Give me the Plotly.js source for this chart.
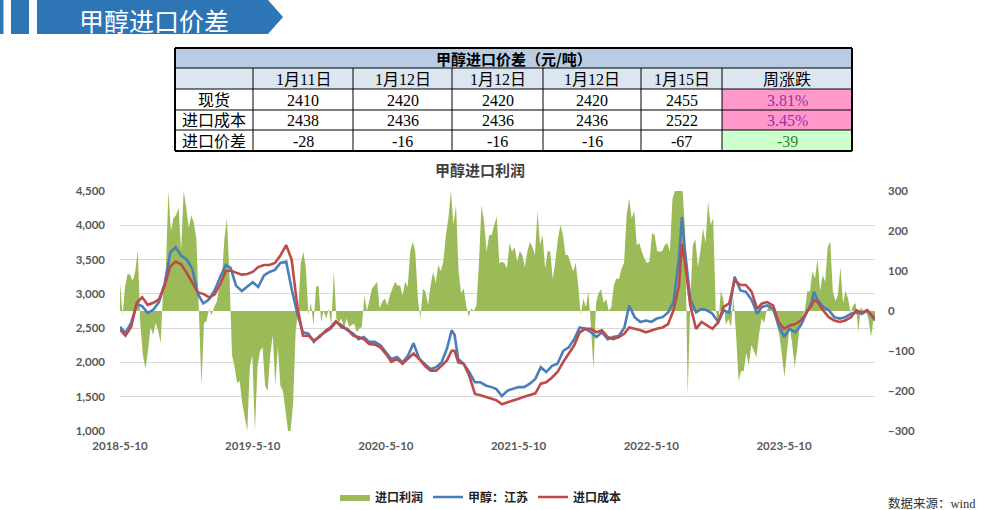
<!DOCTYPE html>
<html>
<head>
<meta charset="utf-8">
<script src="https://cdn.plot.ly/plotly-3.0.1.min.js"></script>
<style>
html,body{margin:0;padding:0;background:#fff;overflow:hidden;}
#chart{width:981px;height:510px;}
</style>
</head>
<body>
<div id="chart"></div>
<script>
// ---------------- DATA ----------------
const bannerTitle = '甲醇进口价差';
const chartTitle = '甲醇进口利润';
const sourceNote = '数据来源：wind';

// table
const tableTitle = '甲醇进口价差（元/吨）';
const tableDates = ['1月11日', '1月12日', '1月12日', '1月12日', '1月15日'];
const changeHeader = '周涨跌';
const rowLabels = ['现货', '进口成本', '进口价差'];
const spotValues = [2410, 2420, 2420, 2420, 2455];
const costValues = [2438, 2436, 2436, 2436, 2522];
const spreadValues = [-28, -16, -16, -16, -67];
const weeklyChange = ['3.81%', '3.45%', '-39'];

// x-axis ticks
const tickDates = ['2018-05-10', '2019-05-10', '2020-05-10', '2021-05-10', '2022-05-10', '2023-05-10'];
const tickLabels = ['2018-5-10', '2019-5-10', '2020-5-10', '2021-5-10', '2022-5-10', '2023-5-10'];

// line series (semi-monthly readings)
const lineDates = [
'2018-05-10','2018-05-25','2018-06-10','2018-06-25','2018-07-10','2018-07-25','2018-08-10','2018-08-25','2018-09-10','2018-09-25','2018-10-10','2018-10-25','2018-11-10','2018-11-25','2018-12-10','2018-12-25',
'2019-01-10','2019-01-25','2019-02-10','2019-02-25','2019-03-10','2019-03-25','2019-04-10','2019-04-25','2019-05-10','2019-05-25','2019-06-10','2019-06-25','2019-07-10','2019-07-25','2019-08-10','2019-08-25','2019-09-10','2019-09-25','2019-10-10','2019-10-25','2019-11-10','2019-11-25','2019-12-10','2019-12-25',
'2020-01-10','2020-01-25','2020-02-10','2020-02-25','2020-03-10','2020-03-25','2020-04-10','2020-04-25','2020-05-10','2020-05-25','2020-06-10','2020-06-25','2020-07-10','2020-07-25','2020-08-10','2020-08-25','2020-09-10','2020-09-25','2020-10-10','2020-10-25','2020-11-07','2020-11-15','2020-11-25','2020-12-10','2020-12-25',
'2021-01-10','2021-01-25','2021-02-10','2021-02-25','2021-03-10','2021-03-25','2021-04-10','2021-04-25','2021-05-10','2021-05-25','2021-06-10','2021-06-25','2021-07-10','2021-07-25','2021-08-10','2021-08-25','2021-09-10','2021-09-25','2021-10-10','2021-10-25','2021-11-10','2021-11-25','2021-12-10','2021-12-25',
'2022-01-10','2022-01-25','2022-02-10','2022-02-25','2022-03-10','2022-03-25','2022-04-10','2022-04-25','2022-05-10','2022-05-25','2022-06-10','2022-06-25','2022-07-10','2022-07-25','2022-08-02','2022-08-10','2022-08-25','2022-09-10','2022-09-25','2022-10-10','2022-10-25','2022-11-10','2022-11-25','2022-12-10','2022-12-25',
'2023-01-10','2023-01-25','2023-02-10','2023-02-25','2023-03-10','2023-03-25','2023-04-10','2023-04-25','2023-05-10','2023-05-25','2023-06-10','2023-06-25','2023-07-10','2023-07-25','2023-07-31','2023-08-10','2023-08-25','2023-09-10','2023-09-25','2023-10-10','2023-10-25','2023-11-10','2023-11-25','2023-12-10','2023-12-25',
'2024-01-10','2024-01-15'];

const jiangsuPrice = [
2520,2430,2580,2850,2820,2720,2770,2880,3150,3600,3680,3560,3500,3360,3000,2860,
2920,3050,3250,3420,3380,3120,3040,3110,3170,3100,3270,3320,3350,3450,3470,3070,2700,2440,2420,2300,2390,2440,2490,2590,
2540,2470,2420,2340,2370,2300,2300,2250,2150,2050,2080,2000,2100,2280,2050,1980,1900,1930,2000,2200,2470,2400,2050,1980,1860,
1710,1710,1660,1640,1610,1510,1590,1610,1640,1640,1690,1760,1930,1860,1950,1980,2170,2220,2340,2510,2490,2440,2370,2440,
2340,2370,2390,2510,2830,2660,2590,2610,2590,2640,2660,2730,2880,3520,4120,3650,2930,2730,2780,2760,2710,2590,2760,2730,3250,
3050,3030,2910,2710,2810,2830,2780,2540,2370,2490,2440,2540,2710,2880,3030,2910,2810,2760,2660,2640,2660,2710,2730,2710,2760,
2640,2610];

const importCost = [
2480,2390,2520,2870,2950,2840,2870,2920,3120,3400,3470,3430,3300,3160,3020,3000,
2950,2990,3150,3330,3340,3310,3280,3290,3320,3390,3420,3420,3450,3560,3710,3500,2800,2390,2390,2320,2370,2460,2510,2600,
2510,2490,2390,2370,2340,2270,2260,2220,2125,2010,2050,1980,2050,2130,2050,1950,1880,1880,1950,2030,2170,2170,2000,1980,1810,
1540,1520,1490,1470,1450,1390,1420,1440,1470,1500,1520,1550,1690,1710,1780,1860,2010,2130,2250,2440,2490,2490,2440,2470,
2370,2340,2370,2420,2510,2490,2470,2440,2470,2490,2510,2560,2760,3120,3730,3480,2830,2490,2590,2540,2490,2590,2810,2860,3200,
3130,3130,3030,2780,2860,2880,2830,2590,2490,2540,2560,2610,2730,2830,2910,2880,2760,2660,2610,2590,2610,2660,2760,2730,2760,
2660,2640];

// import profit (weekly readings, starting 2018-05-10)
const profitStart = '2018-05-10';
const profitStepDays = 7;
const importProfit = [
70,-10,60,94,90,75,100,152,-36,-110,
-145,-100,-40,-60,-30,-50,-80,64,100,300,
200,232,240,259,150,300,260,207,240,220,
180,0,-187,-30,-25,5,-10,10,23,60,
80,180,232,90,-110,-140,-180,-175,-230,-265,
-300,-140,-110,-300,-140,-100,-90,-187,-200,-110,
-60,-187,-90,-187,-200,-250,-300,-300,-230,-50,
0,120,148,110,-10,20,-36,60,64,-28,
0,-19,5,-36,100,-19,-28,-19,-44,-19,
-40,-35,-32,-53,-44,-40,39,0,31,56,
64,73,6,23,31,14,39,55,73,64,
64,39,73,60,148,173,148,30,-19,56,
48,15,64,98,70,115,100,123,190,232,
300,215,265,98,45,56,14,-15,6,0,
14,120,265,223,148,190,190,215,236,120,
123,120,106,170,148,160,123,150,140,110,
148,173,160,140,250,165,190,106,150,148,
80,123,180,215,190,140,140,120,98,120,
64,-10,31,10,48,-40,-145,20,45,55,
20,30,0,10,65,81,80,106,120,240,
280,232,250,165,170,148,131,120,123,195,
190,150,148,150,165,170,148,280,300,300,
300,300,200,-212,20,165,180,110,150,207,
170,274,215,232,5,-36,50,30,-35,-20,
-40,35,-60,-175,-150,-150,-105,-136,-85,-100,
-115,-60,-19,-30,0,15,5,-10,-36,-60,
-110,-165,-100,-40,-80,-140,-95,-40,-10,0,
50,48,100,81,130,50,90,73,160,173,
50,25,40,110,20,50,31,-5,14,20,
-53,10,0,0,-20,-65,-20,-30];

// ---------------- BUILD ----------------
const profitDates = importProfit.map((_, i) => {
  const d = new Date(profitStart + 'T00:00:00Z');
  d.setUTCDate(d.getUTCDate() + i * profitStepDays);
  return d.toISOString().slice(0, 10);
});

const W = 981, H = 510;
const PL = 120, PR = 875, PT = 191, PB = 431;
const fx = px => (px - PL) / (PR - PL);
const fy = py => (PB - py) / (PB - PT);

const tickFont = {family: 'Lato, "Noto Sans", sans-serif', size: 11.5, color: '#595959', weight: 'bold'};
const cjk = '"Noto Sans CJK SC", "Noto Sans", sans-serif';
const serif = '"Liberation Serif", "DejaVu Serif", "Noto Sans CJK SC", serif';

const shapes = [];
const annotations = [];

// banner
const bannerBlue = '#2E75B6';
shapes.push({type: 'rect', xref: 'paper', yref: 'paper', x0: fx(0), x1: fx(3.5), y0: fy(34), y1: fy(0), fillcolor: bannerBlue, line: {width: 0}});
shapes.push({type: 'rect', xref: 'paper', yref: 'paper', x0: fx(11), x1: fx(29), y0: fy(34), y1: fy(0), fillcolor: bannerBlue, line: {width: 0}});
shapes.push({type: 'path', xref: 'paper', yref: 'paper',
  path: `M ${fx(37)} ${fy(0)} L ${fx(268)} ${fy(0)} L ${fx(283)} ${fy(17)} L ${fx(268)} ${fy(34)} L ${fx(37)} ${fy(34)} Z`,
  fillcolor: bannerBlue, line: {width: 0}});
annotations.push({xref: 'paper', yref: 'paper', x: fx(154), y: fy(20), text: bannerTitle, showarrow: false,
  xanchor: 'center', yanchor: 'middle', font: {family: cjk, size: 25, color: '#ffffff'}});

// table
const cols = [175, 253, 353, 452, 543, 641, 722, 852];
const rows = [48, 68, 89, 110, 130, 151];
const cellRect = (x0, x1, y0, y1, fill) => shapes.push({type: 'rect', xref: 'paper', yref: 'paper',
  x0: fx(x0), x1: fx(x1), y0: fy(y1), y1: fy(y0), fillcolor: fill, line: {width: 0}, layer: 'above'});
cellRect(cols[0], cols[7], rows[0], rows[1], '#B8CCE4');
cellRect(cols[0], cols[7], rows[1], rows[2], '#DCE6F1');
cellRect(cols[6], cols[7], rows[2], rows[3], '#FF99CC');
cellRect(cols[6], cols[7], rows[3], rows[4], '#FF99CC');
cellRect(cols[6], cols[7], rows[4], rows[5], '#CCFFCC');
const hline = (x0, x1, y, w) => shapes.push({type: 'line', xref: 'paper', yref: 'paper', x0: fx(x0), x1: fx(x1), y0: fy(y), y1: fy(y), line: {color: '#000', width: w}});
const vline = (x, y0, y1, w) => shapes.push({type: 'line', xref: 'paper', yref: 'paper', x0: fx(x), x1: fx(x), y0: fy(y0), y1: fy(y1), line: {color: '#000', width: w}});
rows.forEach((r, i) => hline(cols[0], cols[7], r, (i === 0 || i === rows.length - 1) ? 2 : 1));
cols.forEach((c, i) => {
  if (i === 0 || i === cols.length - 1) vline(c, rows[0], rows[5], 2);
  else vline(c, rows[1], rows[5], 1);
});
const cellText = (ci, ri, text, font) => annotations.push({xref: 'paper', yref: 'paper',
  x: fx((cols[ci] + cols[ci + 1]) / 2), y: fy((rows[ri] + rows[ri + 1]) / 2 + 0.5), text: String(text), showarrow: false,
  xanchor: 'center', yanchor: 'middle', font: font});
annotations.push({xref: 'paper', yref: 'paper', x: fx((cols[0] + cols[7]) / 2), y: fy((rows[0] + rows[1]) / 2 + 0.5),
  text: tableTitle, showarrow: false, xanchor: 'center', yanchor: 'middle',
  font: {family: cjk, size: 15, color: '#000', weight: 'bold'}});
const bodyFont = {family: serif, size: 16, color: '#000'};
tableDates.forEach((d, i) => cellText(i + 1, 1, d, bodyFont));
cellText(6, 1, changeHeader, bodyFont);
const tableRows = [spotValues, costValues, spreadValues];
rowLabels.forEach((lab, r) => {
  cellText(0, r + 2, lab, bodyFont);
  tableRows[r].forEach((v, c) => cellText(c + 1, r + 2, v, bodyFont));
});
cellText(6, 2, weeklyChange[0], {family: serif, size: 16, color: '#A0309E'});
cellText(6, 3, weeklyChange[1], {family: serif, size: 16, color: '#A0309E'});
cellText(6, 4, weeklyChange[2], {family: serif, size: 16, color: '#2E8B2E'});

// source note
annotations.push({xref: 'paper', yref: 'paper', x: fx(978), y: fy(503), text: sourceNote, showarrow: false,
  xanchor: 'right', yanchor: 'middle', font: {family: serif, size: 12.5, color: '#333'}});

const traces = [
  {type: 'scatter', mode: 'lines', name: '进口利润', x: profitDates, y: importProfit, yaxis: 'y',
   fill: 'tozeroy', fillcolor: '#9BBB59', line: {width: 0, color: '#9BBB59'}, hoverinfo: 'skip'},
  {type: 'scatter', mode: 'lines', name: '甲醇：江苏', x: lineDates, y: jiangsuPrice, yaxis: 'y2',
   line: {color: '#4A7EBB', width: 2.6}},
  {type: 'scatter', mode: 'lines', name: '进口成本', x: lineDates, y: importCost, yaxis: 'y2',
   line: {color: '#BE4B48', width: 2.6}}
];

const layout = {
  width: W, height: H,
  margin: {l: PL, r: W - PR, t: PT, b: H - PB, pad: 0, autoexpand: false},
  paper_bgcolor: '#ffffff', plot_bgcolor: 'rgba(0,0,0,0)',
  title: {text: chartTitle, xref: 'paper', x: fx(480), yref: 'container', y: 1 - 171 / H,
    xanchor: 'center', yanchor: 'middle', font: {family: cjk, size: 15, color: '#404040', weight: 'bold'}},
  showlegend: true,
  legend: {orientation: 'h', xref: 'paper', yref: 'paper', x: fx(481), y: fy(497), xanchor: 'center', yanchor: 'middle',
    font: {family: cjk, size: 12, color: '#222', weight: 'bold'}, bgcolor: 'rgba(0,0,0,0)', itemwidth: 30, tracegroupgap: 0},
  xaxis: {type: 'date', range: ['2018-05-10', '2024-01-15'], tickvals: tickDates, ticktext: tickLabels,
    showgrid: false, zeroline: false, showline: false, ticks: '', tickfont: tickFont, ticklabelstandoff: 6, fixedrange: true},
  yaxis: {range: [-300, 300], dtick: 100, tick0: 0, side: 'right', showgrid: false, zeroline: false, showline: false,
    ticks: '', tickfont: tickFont, ticklabelstandoff: 12, fixedrange: true},
  yaxis2: {range: [1000, 4500], dtick: 500, tick0: 1000, tickformat: ',d', side: 'left', overlaying: 'y',
    showgrid: true, gridcolor: '#D9D9D9', gridwidth: 1, zeroline: false, showline: false, ticks: '',
    tickfont: tickFont, ticklabelstandoff: 14, fixedrange: true},
  shapes: shapes,
  annotations: annotations
};

Plotly.newPlot('chart', traces, layout, {staticPlot: true, displayModeBar: false});
</script>
</body>
</html>
